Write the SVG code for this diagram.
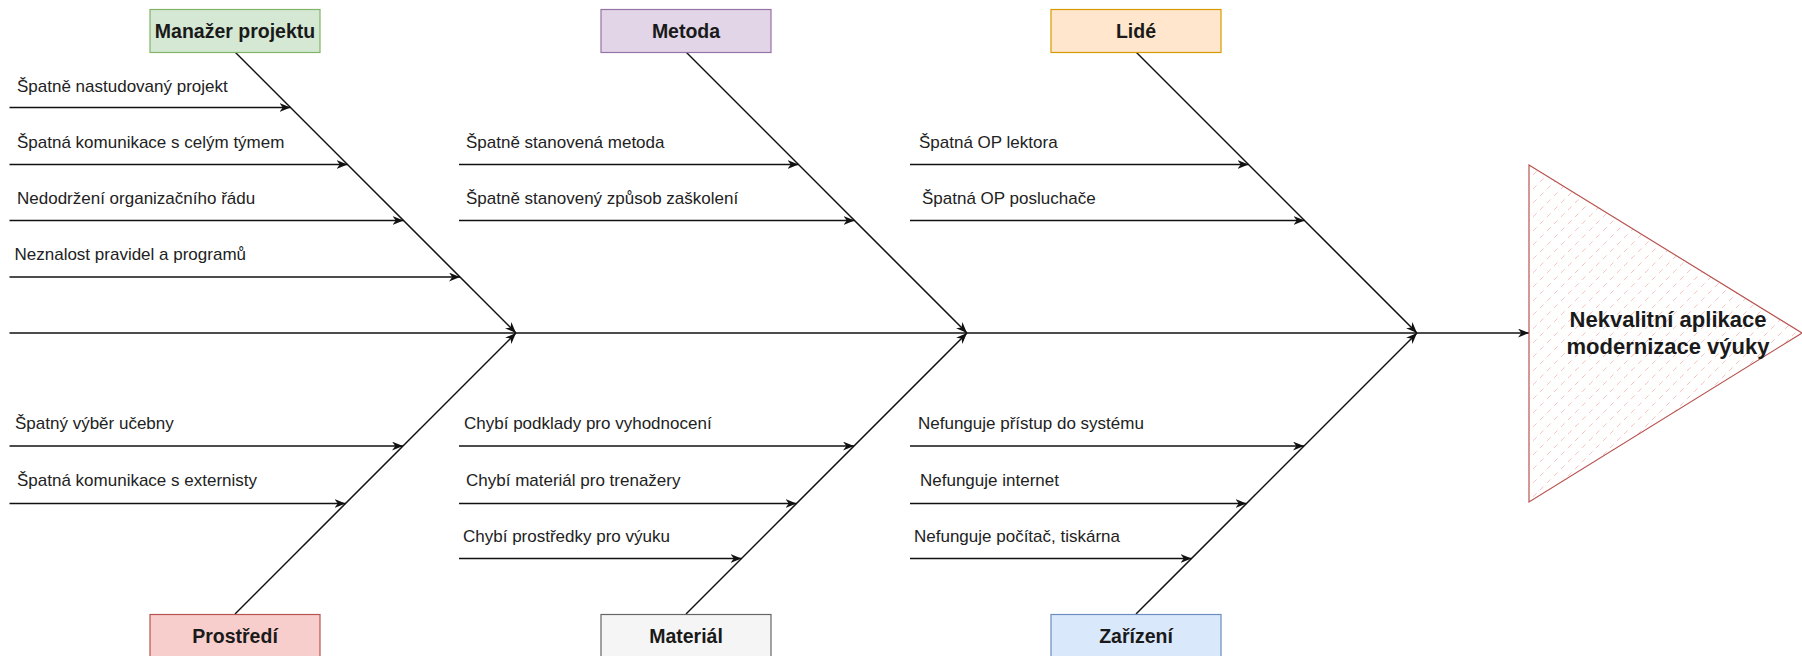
<svg xmlns="http://www.w3.org/2000/svg" width="1802" height="656" viewBox="0 0 1802 656">
<style>
.lbl{font-family:"Liberation Sans",Arial,sans-serif;font-size:17px;fill:#222}
.box{stroke-width:1.2}
.bt{font-family:"Liberation Sans",Arial,sans-serif;font-size:19.5px;font-weight:bold;fill:#1a1a1a;text-anchor:middle}
.ln{stroke:#111;stroke-width:1.5;fill:none}
.arr{marker-end:url(#ah)}
</style>
<defs>
<marker id="ah" viewBox="0 0 10 8" refX="10" refY="4" markerWidth="11" markerHeight="9" markerUnits="userSpaceOnUse" orient="auto">
<path d="M0,0 L10,4 L0,8 L3,4 Z" fill="#111"/>
</marker>
<pattern id="hatch" patternUnits="userSpaceOnUse" width="14" height="14">
<rect width="14" height="14" fill="#fff"/>
<path d="M0,14 L14,0" stroke="#f6c4c1" stroke-width="1" stroke-dasharray="5 5"/>
</pattern>
</defs>
<rect width="1802" height="656" fill="#fff"/>

<g id="connectors">
<line class="ln arr" x1="9.5" y1="333" x2="1529" y2="333"/>
<line class="ln arr" x1="235" y1="52" x2="516" y2="333"/>
<line class="ln arr" x1="686" y1="52" x2="967" y2="333"/>
<line class="ln arr" x1="1136" y1="52" x2="1417" y2="333"/>
<line class="ln arr" x1="235" y1="614" x2="516" y2="333"/>
<line class="ln arr" x1="686" y1="614" x2="967" y2="333"/>
<line class="ln arr" x1="1136" y1="614" x2="1417" y2="333"/>

<line class="ln arr" x1="9.5" y1="107.5" x2="290.5" y2="107.5"/>
<line class="ln arr" x1="9.5" y1="164.5" x2="347.5" y2="164.5"/>
<line class="ln arr" x1="9.5" y1="220.5" x2="403.5" y2="220.5"/>
<line class="ln arr" x1="9.5" y1="277" x2="460" y2="277"/>
<line class="ln arr" x1="459" y1="164.5" x2="798.5" y2="164.5"/>
<line class="ln arr" x1="459" y1="220.5" x2="854.5" y2="220.5"/>
<line class="ln arr" x1="910" y1="164.5" x2="1248.5" y2="164.5"/>
<line class="ln arr" x1="910" y1="220.5" x2="1304.5" y2="220.5"/>

<line class="ln arr" x1="9.5" y1="446" x2="403" y2="446"/>
<line class="ln arr" x1="9.5" y1="503.5" x2="345.5" y2="503.5"/>
<line class="ln arr" x1="459" y1="446" x2="854" y2="446"/>
<line class="ln arr" x1="459" y1="503.5" x2="796.5" y2="503.5"/>
<line class="ln arr" x1="459" y1="558.5" x2="741.5" y2="558.5"/>
<line class="ln arr" x1="910" y1="446" x2="1304" y2="446"/>
<line class="ln arr" x1="910" y1="503.5" x2="1246.5" y2="503.5"/>
<line class="ln arr" x1="910" y1="558.5" x2="1191.5" y2="558.5"/>
</g>

<g id="branch-labels">
<text class="lbl" x="17" y="92">Špatně nastudovaný projekt</text>
<text class="lbl" x="17" y="148">Špatná komunikace s celým týmem</text>
<text class="lbl" x="17" y="204">Nedodržení organizačního řádu</text>
<text class="lbl" x="14.5" y="260">Neznalost pravidel a programů</text>
<text class="lbl" x="466" y="148">Špatně stanovená metoda</text>
<text class="lbl" x="466" y="204">Špatně stanovený způsob zaškolení</text>
<text class="lbl" x="919" y="148">Špatná OP lektora</text>
<text class="lbl" x="922" y="204">Špatná OP posluchače</text>
<text class="lbl" x="15" y="429">Špatný výběr učebny</text>
<text class="lbl" x="17" y="486">Špatná komunikace s externisty</text>
<text class="lbl" x="464" y="429">Chybí podklady pro vyhodnocení</text>
<text class="lbl" x="466" y="486">Chybí materiál pro trenažery</text>
<text class="lbl" x="463" y="542">Chybí prostředky pro výuku</text>
<text class="lbl" x="918" y="429">Nefunguje přístup do systému</text>
<text class="lbl" x="920" y="486">Nefunguje internet</text>
<text class="lbl" x="914" y="542">Nefunguje počítač, tiskárna</text>
</g>

<g id="node-manazer">
<rect class="box" x="150" y="9.5" width="170" height="43" fill="#d5e8d4" stroke="#82b366"/>
<text class="bt" x="235" y="38">Manažer projektu</text>
</g>
<g id="node-metoda">
<rect class="box" x="601" y="9.5" width="170" height="43" fill="#e1d5e7" stroke="#9673a6"/>
<text class="bt" x="686" y="38">Metoda</text>
</g>
<g id="node-lide">
<rect class="box" x="1051" y="9.5" width="170" height="43" fill="#ffe6cc" stroke="#d79b00"/>
<text class="bt" x="1136" y="38">Lidé</text>
</g>
<g id="node-prostredi">
<rect class="box" x="150" y="614.5" width="170" height="43" fill="#f8cecc" stroke="#b85450"/>
<text class="bt" x="235" y="643">Prostředí</text>
</g>
<g id="node-material">
<rect class="box" x="601" y="614.5" width="170" height="43" fill="#f5f5f5" stroke="#666666"/>
<text class="bt" x="686" y="643">Materiál</text>
</g>
<g id="node-zarizeni">
<rect class="box" x="1051" y="614.5" width="170" height="43" fill="#dae8fc" stroke="#6c8ebf"/>
<text class="bt" x="1136" y="643">Zařízení</text>
</g>

<g id="node-effect">
<polygon points="1529,165 1802,333 1529,502" fill="url(#hatch)" stroke="#b85450" stroke-width="1.2"/>
<text font-family="Liberation Sans, Arial, sans-serif" font-size="22" font-weight="bold" fill="#1a1a1a" text-anchor="middle"><tspan x="1668" y="327">Nekvalitní aplikace</tspan><tspan x="1668" y="354">modernizace výuky</tspan></text>
</g>
</svg>
